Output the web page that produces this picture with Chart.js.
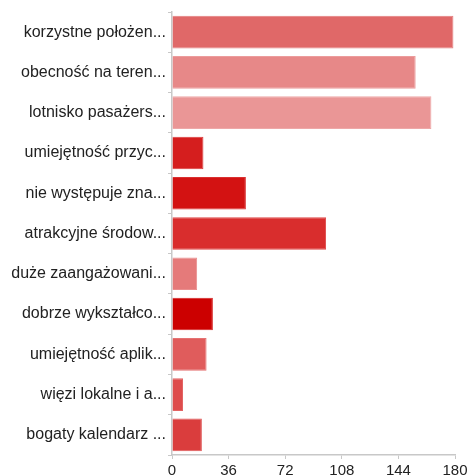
<!DOCTYPE html>
<html>
<head>
<meta charset="utf-8">
<script src="https://cdn.jsdelivr.net/npm/chart.js@4/dist/chart.umd.min.js"></script>
<style>
html,body{margin:0;padding:0;background:#fff;}
#wrap{width:469px;height:475px;position:relative;}
</style>
</head>
<body>
<div id="wrap"><canvas id="c" width="469" height="475"></canvas></div>
<script>
const categories = [
  "korzystne położen...",
  "obecność na teren...",
  "lotnisko pasażers...",
  "umiejętność przyc...",
  "nie występuje zna...",
  "atrakcyjne środow...",
  "duże zaangażowani...",
  "dobrze wykształco...",
  "umiejętność aplik...",
  "więzi lokalne i a...",
  "bogaty kalendarz ..."
];
const values = [179, 155, 165, 20, 47, 98, 16, 26, 22, 7, 19];
const xTicks = [0, 36, 72, 108, 144, 180];

const barColors = ["#e06868","#e78888","#ea9696","#d51e1e","#d31212","#d92d2d","#e57a7a","#cc0000","#e05c5c","#de4c4c","#da3d3d"];
const borderColors = ["#e47c7c","#ec9c9c","#eea8a8","#dc3a3a","#da3030","#df4848","#ea8e8e","#d52222","#e57272","#e36464","#df5656"];

new Chart(document.getElementById('c'), {
  type: 'bar',
  data: {
    labels: categories,
    datasets: [{
      data: values,
      backgroundColor: barColors,
      borderColor: borderColors,
      borderWidth: 1,
      barPercentage: 0.81,
      categoryPercentage: 1.0
    }]
  },
  options: {
    indexAxis: 'y',
    responsive: false,
    animation: false,
    devicePixelRatio: 1,
    layout: { padding: { top: 12, right: 14, bottom: 0, left: 0 } },
    plugins: { legend: { display: false }, tooltip: { enabled: false } },
    scales: {
      x: {
        min: 0, max: 180,
        afterBuildTicks: (s) => { s.ticks = xTicks.map(v => ({ value: v })); },
        grid: { drawOnChartArea: false, tickLength: 4, color: '#c8c8c8', lineWidth: 1 },
        border: { color: '#c8c8c8', width: 1.5 },
        ticks: { color: '#222', padding: 4, font: { family: 'Liberation Sans', size: 15, lineHeight: 1 }, maxRotation: 0 },
        afterFit: (s) => { s.height = 20; s.paddingLeft = 0; s.paddingRight = 0; }
      },
      y: {
        grid: { drawOnChartArea: false, tickLength: 4, color: '#c8c8c8', lineWidth: 1 },
        border: { color: '#c8c8c8', width: 1.5 },
        ticks: { color: '#222', padding: 2, font: { family: 'Liberation Sans', size: 16 }, autoSkip: false },
        afterFit: (s) => { s.width = 172; s.paddingTop = 0; s.paddingBottom = 0; }
      }
    }
  }
});
</script>
</body>
</html>
